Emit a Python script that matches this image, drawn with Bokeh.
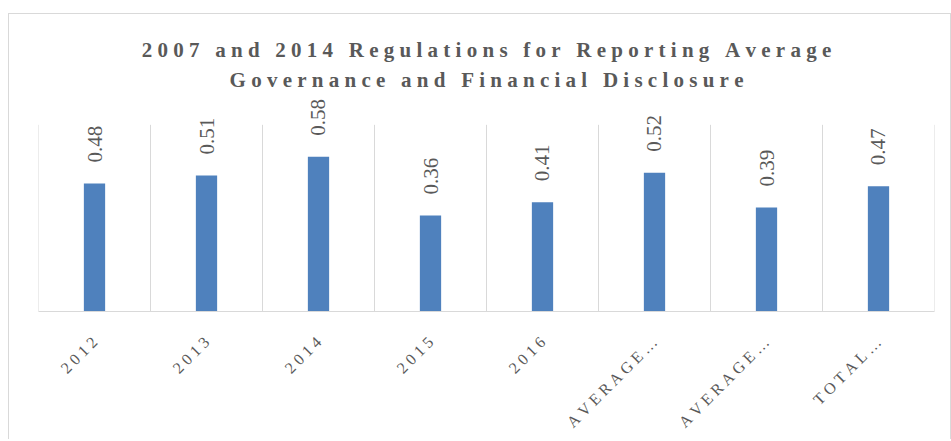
import math
from bokeh.plotting import figure
from bokeh.models import ColumnDataSource, LabelSet, Title, Range1d, FixedTicker
from bokeh.transform import dodge
from bokeh.core.properties import value
from bokeh.embed import file_html
from bokeh.resources import INLINE

# ---- data ----
categories = ["2012", "2013", "2014", "2015", "2016", "AVERAGE …", "AVERAGE …", "TOTAL…"]
values = [0.48, 0.51, 0.58, 0.36, 0.41, 0.52, 0.39, 0.47]
value_labels = ["0.48", "0.51", "0.58", "0.36", "0.41", "0.52", "0.39", "0.47"]
title_lines = ["2007 and 2014 Regulations for Reporting Average",
               "Governance and Financial Disclosure"]
y_max = 0.7      # top of the category separators
y_top = 0.81     # top of the drawing area (room for the value labels)

SP = "\u2005"  # quarter-em space to mimic the letter spacing


def spaced(s, word_gap):
    return word_gap.join(SP.join(w) for w in s.split(" "))


positions = list(range(len(categories)))
src = ColumnDataSource(dict(x=positions, value=values, label=value_labels))
last_src = ColumnDataSource(dict(x=positions[-1:]))

FONT = "Liberation Serif"
GRAY = "#595959"
LINE = "#D9D9D9"

p = figure(
    x_range=Range1d(-0.5, len(categories) - 0.5),
    y_range=Range1d(0, y_top),
    frame_width=896, frame_height=216,
    min_border_left=29, min_border_right=16,
    min_border_top=81, min_border_bottom=112,
    output_backend="svg", toolbar_location=None,
    y_axis_location=None,
)
p.styles = {
    "margin": "13px 0 0 8px",
    "border-top": f"1px solid {LINE}",
    "border-left": f"1px solid {LINE}",
    "border-right": f"1px solid {LINE}",
}

title_gap = SP + " " + SP
# two centred title lines (first added sits closest to the plot)
p.add_layout(Title(text=spaced(title_lines[1], title_gap), align="center", text_font=FONT,
                   text_font_size="21px", text_font_style="bold",
                   text_color=GRAY, standoff=7), "above")
p.add_layout(Title(text=spaced(title_lines[0], title_gap), align="center", text_font=FONT,
                   text_font_size="21px", text_font_style="bold",
                   text_color=GRAY, standoff=2), "above")

p.outline_line_color = None
p.xgrid.grid_line_color = None
p.ygrid.grid_line_color = None

# category separators
p.segment(x0=dodge("x", -0.5), y0=0, x1=dodge("x", -0.5), y1=y_max,
          source=src, line_color=LINE, line_width=1)
p.segment(x0=dodge("x", 0.5), y0=0, x1=dodge("x", 0.5), y1=y_max,
          source=last_src, line_color=LINE, line_width=1)

p.vbar(x="x", top="value", width=0.19, bottom=0, source=src,
       fill_color="#4F81BD", line_color=None)

labels = LabelSet(x="x", y="value", text="label", source=src,
                  angle=math.pi / 2, text_align="left", text_baseline="middle",
                  y_offset=21, text_font=value(FONT), text_font_size="21px",
                  text_color=GRAY)
p.add_layout(labels)

ax = p.xaxis[0]
ax.ticker = FixedTicker(ticks=positions)
ax.axis_line_color = LINE
ax.major_tick_line_color = None
ax.minor_tick_line_color = None
ax.major_label_orientation = math.pi / 4
ax.major_label_standoff = 22
ax.major_label_text_font = FONT
ax.major_label_text_font_size = "16px"
ax.major_label_text_color = GRAY
ax.major_label_overrides = {i: spaced(c, " ") for i, c in zip(positions, categories)}

open("out.html", "w").write(file_html(p, INLINE))
